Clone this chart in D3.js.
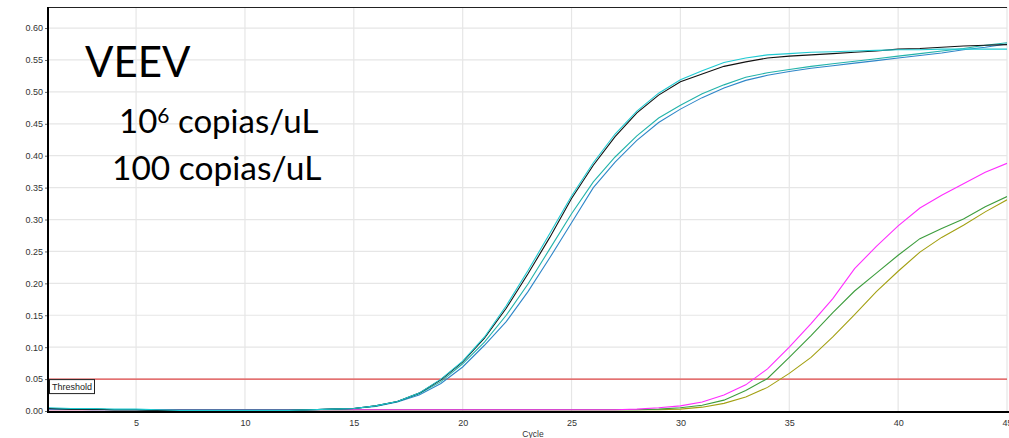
<!DOCTYPE html>
<html>
<head>
<meta charset="utf-8">
<script src="https://cdn.jsdelivr.net/npm/d3@7/dist/d3.min.js"></script>
<style>
  html, body { margin: 0; padding: 0; background: #fff; }
  svg { display: block; }
  .tick text { font-family: "Liberation Sans", Arial, sans-serif; font-size: 9px; fill: #333; }
</style>
</head>
<body>
<svg id="chart" width="1009" height="438"></svg>
<script>
// PCR amplification cycles
const cycles = [1,2,3,4,5,6,7,8,9,10,11,12,13,14,15,16,17,18,19,20,21,22,23,24,25,26,27,28,29,30,31,32,33,34,35,36,37,38,39,40,41,42,43,44,45];

// Fluorescence, 10^6 copies/uL replicates
const highBlack = [0.004,0.003,0.003,0.002,0.002,0.001,0.001,0.001,0.001,0.001,0.001,0.001,0.002,0.003,0.004,0.008,0.015,0.028,0.049,0.077,0.114,0.161,0.215,0.272,0.333,0.385,0.430,0.467,0.495,0.516,0.528,0.540,0.547,0.553,0.556,0.558,0.560,0.562,0.564,0.567,0.568,0.570,0.572,0.573,0.574];
const highCyan = [0.005,0.004,0.004,0.003,0.003,0.002,0.001,0.001,0.001,0.001,0.001,0.001,0.002,0.003,0.004,0.008,0.015,0.028,0.050,0.078,0.116,0.165,0.220,0.278,0.337,0.389,0.434,0.470,0.498,0.519,0.533,0.546,0.553,0.558,0.560,0.562,0.563,0.564,0.565,0.566,0.566,0.567,0.567,0.567,0.567];
const highTeal = [0.004,0.003,0.003,0.002,0.002,0.001,0.001,0.001,0.001,0.001,0.001,0.001,0.002,0.003,0.004,0.008,0.015,0.027,0.046,0.074,0.108,0.150,0.199,0.254,0.309,0.359,0.398,0.431,0.459,0.479,0.497,0.511,0.523,0.530,0.535,0.540,0.544,0.548,0.552,0.556,0.560,0.564,0.568,0.573,0.577];
const highBlue = [0.003,0.003,0.002,0.002,0.002,0.001,0.001,0.001,0.001,0.001,0.001,0.001,0.002,0.003,0.004,0.007,0.014,0.025,0.043,0.069,0.103,0.140,0.187,0.240,0.295,0.350,0.390,0.424,0.452,0.473,0.491,0.506,0.518,0.526,0.532,0.537,0.541,0.545,0.549,0.553,0.557,0.561,0.566,0.570,0.575];

// Fluorescence, 100 copies/uL replicates
const lowMagenta = [0.002,0.002,0.002,0.002,0.002,0.002,0.002,0.002,0.002,0.002,0.002,0.002,0.002,0.002,0.002,0.002,0.002,0.002,0.002,0.002,0.002,0.002,0.002,0.002,0.002,0.002,0.002,0.003,0.005,0.008,0.014,0.025,0.041,0.066,0.100,0.137,0.176,0.223,0.258,0.290,0.318,0.338,0.356,0.374,0.388];
const lowGreen = [0.004,0.003,0.003,0.002,0.002,0.002,0.002,0.002,0.002,0.002,0.002,0.002,0.002,0.002,0.002,0.002,0.002,0.002,0.002,0.002,0.002,0.002,0.002,0.002,0.002,0.002,0.002,0.002,0.003,0.005,0.009,0.017,0.032,0.051,0.084,0.118,0.154,0.188,0.216,0.244,0.270,0.286,0.301,0.320,0.336];
const lowOlive = [0.002,0.002,0.002,0.002,0.002,0.002,0.002,0.002,0.002,0.002,0.002,0.002,0.002,0.002,0.002,0.002,0.002,0.002,0.002,0.002,0.002,0.002,0.002,0.002,0.002,0.002,0.002,0.002,0.002,0.003,0.006,0.012,0.022,0.037,0.059,0.084,0.116,0.151,0.187,0.219,0.249,0.272,0.291,0.312,0.331];

const yTicks = [0,0.05,0.10,0.15,0.20,0.25,0.30,0.35,0.40,0.45,0.50,0.55,0.60];
const xTicks = [5,10,15,20,25,30,35,40,45];
const threshold = 0.05;

const series = [
  { name: "100-olive",   values: lowOlive,   color: "#a3a012" },
  { name: "100-green",   values: lowGreen,   color: "#3d9d3d" },
  { name: "100-magenta", values: lowMagenta, color: "#ff2dff" },
  { name: "1e6-blue",    values: highBlue,   color: "#2e86c8" },
  { name: "1e6-teal",    values: highTeal,   color: "#22b3aa" },
  { name: "1e6-black",   values: highBlack,  color: "#111111" },
  { name: "1e6-cyan",    values: highCyan,   color: "#1fcad2" }
];

const svg = d3.select("#chart");
const plotLeft = 49, plotRight = 1007, plotTop = 7, plotBottom = 411;

const x = d3.scaleLinear().domain([1, 45]).range([plotLeft, plotRight]);
const y = d3.scaleLinear().domain([0, 0.633]).range([plotBottom, plotTop]);

// grid
const grid = svg.append("g");
grid.selectAll("line.h").data(yTicks.filter(d => d > 0)).join("line")
  .attr("x1", plotLeft).attr("x2", plotRight)
  .attr("y1", d => y(d)).attr("y2", d => y(d))
  .attr("stroke", "#e6e6e6").attr("stroke-width", 1.2);
grid.selectAll("line.v").data(xTicks).join("line")
  .attr("x1", d => x(d)).attr("x2", d => x(d))
  .attr("y1", plotTop).attr("y2", plotBottom)
  .attr("stroke", "#e6e6e6").attr("stroke-width", 1.2);

// threshold
svg.append("line")
  .attr("x1", plotLeft).attr("x2", plotRight)
  .attr("y1", y(threshold)).attr("y2", y(threshold))
  .attr("stroke", "#e24848").attr("stroke-width", 1.4);

// amplification curves
svg.append("defs").append("clipPath").attr("id", "plot-clip")
  .append("rect").attr("x", plotLeft).attr("y", plotTop).attr("width", plotRight - plotLeft).attr("height", plotBottom - plotTop);

const line = d3.line().x((d, i) => x(cycles[i])).y(d => y(d));
svg.append("g").attr("clip-path", "url(#plot-clip)")
  .selectAll("path").data(series).join("path")
  .attr("d", d => line(d.values))
  .attr("fill", "none")
  .attr("stroke", d => d.color)
  .attr("stroke-width", 1.1);

// axes
const yAxis = svg.append("g").attr("transform", `translate(${plotLeft},0)`)
  .call(d3.axisLeft(y).tickValues(yTicks).tickFormat(d3.format(".2f")).tickSize(4).tickPadding(2));
yAxis.select(".domain").remove();
yAxis.selectAll(".tick line").attr("stroke", "#666");

const xAxis = svg.append("g").attr("transform", `translate(0,${plotBottom})`)
  .call(d3.axisBottom(x).tickValues(xTicks).tickFormat(d3.format("d")).tickSize(0).tickPadding(9));
xAxis.select(".domain").remove();

// frame
svg.append("line").attr("x1", plotLeft).attr("x2", plotRight).attr("y1", plotTop + 0.5).attr("y2", plotTop + 0.5)
  .attr("stroke", "#222").attr("stroke-width", 1);
svg.append("line").attr("x1", plotLeft - 1).attr("x2", plotLeft - 1).attr("y1", plotTop).attr("y2", plotBottom + 1)
  .attr("stroke", "#000").attr("stroke-width", 2);
svg.append("line").attr("x1", plotLeft - 2).attr("x2", plotRight + 2).attr("y1", plotBottom + 1).attr("y2", plotBottom + 1)
  .attr("stroke", "#000").attr("stroke-width", 2);

// axis title
svg.append("text").attr("x", 533).attr("y", 437).attr("text-anchor", "middle")
  .style("font-family", "'Liberation Sans', Arial, sans-serif").style("font-size", "8.5px").attr("fill", "#333")
  .text("Cycle");

// threshold tag
const tag = svg.append("g");
tag.append("rect").attr("x", plotLeft + 0.5).attr("y", y(threshold) + 0.5).attr("width", 45).attr("height", 14)
  .attr("fill", "#fff").attr("stroke", "#222").attr("stroke-width", 1);
tag.append("text").attr("x", plotLeft + 3).attr("y", y(threshold) + 11)
  .style("font-family", "'Liberation Sans', Arial, sans-serif").style("font-size", "9px").attr("fill", "#222")
  .text("Threshold");

// annotations
const ann = svg.append("g").style("font-family", "Lato, 'Open Sans', sans-serif").attr("fill", "#000");
ann.append("text").attr("x", 85).attr("y", 77).style("font-size", "42px").text("VEEV");
const l1 = ann.append("text").attr("x", 119).attr("y", 133).style("font-size", "33px");
l1.append("tspan").text("10");
l1.append("tspan").attr("dy", -10).style("font-size", "21px").text("6");
l1.append("tspan").attr("dy", 10).text(" copias/uL");
ann.append("text").attr("x", 112).attr("y", 180).style("font-size", "33.5px").text("100 copias/uL");
</script>
</body>
</html>
